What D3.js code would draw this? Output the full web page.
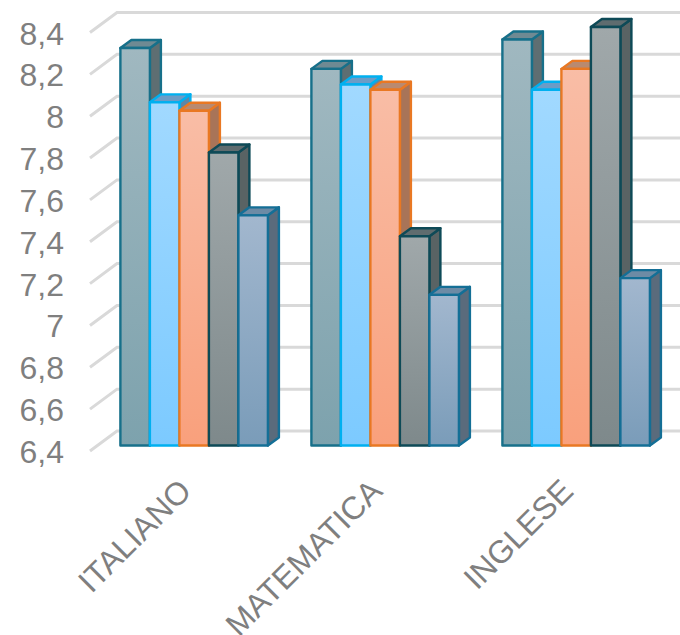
<!DOCTYPE html>
<html><head><meta charset="utf-8">
<script src="https://cdn.jsdelivr.net/npm/d3@7/dist/d3.min.js"></script>
<style>html,body{margin:0;padding:0;background:#fff}svg{display:block}text{font-family:"Liberation Sans",Arial,sans-serif;fill:#7f7f7f}</style>
</head><body><div id="c"></div>
<script>
const categories = ["ITALIANO","MATEMATICA","INGLESE"];
const seriesNames = ["A","B","C","D","E"];
const values = [
  [8.3, 8.04, 8.0, 7.8, 7.5],
  [8.2, 8.125, 8.1, 7.4, 7.12],
  [8.34, 8.1, 8.2, 8.4, 7.2]
];
const yTicks = [6.4,6.6,6.8,7,7.2,7.4,7.6,7.8,8,8.2,8.4];
const frontTop = ["#a0b8c0","#a1d9ff","#f9bda6","#a0a8aa","#a2b7ce"];
const frontBottom = ["#7da2ad","#7ccaff","#f9a07c","#7e898b","#7a9cb9"];
const strokes = ["#17708a","#00b0f0","#e97823","#0e4a57","#146f96"];
const tops = ["#6f8a93","#6c9cc6","#b98a70","#5f6c6f","#6d8ba5"];
const sides = ["#5e6e72","#5c87a8","#a87458","#596364","#5a6b7c"];

const W=680,H=635;
const svg=d3.select("#c").append("svg").attr("width",W).attr("height",H);
const y=d3.scaleLinear().domain([6.4,8.4]).range([451,32.5]);
const x=d3.scaleBand().domain(categories).range([96,674.3]).paddingInner(0.2277).paddingOuter(0.1277);
const sx=d3.scaleBand().domain(seriesNames).range([0,x.bandwidth()]);
const wallDx=27,wallDy=-20,barLift=-5.5,depthX=11,depthY=-8;

const defs=svg.append("defs");
seriesNames.forEach((s,i)=>{
  const g=defs.append("linearGradient").attr("id","g"+i).attr("x1",0).attr("y1",0).attr("x2",0).attr("y2",1);
  g.append("stop").attr("offset",0).attr("stop-color",frontTop[i]);
  g.append("stop").attr("offset",1).attr("stop-color",frontBottom[i]);
});

// gridlines on walls
svg.append("g").selectAll("path").data(yTicks).join("path")
  .attr("fill","none").attr("stroke","#d9d9d9").attr("stroke-width",3)
  .attr("d",d=>`M90,${y(d)}L${90+wallDx},${y(d)+wallDy}L${W},${y(d)+wallDy}`);

// value axis
const axis=d3.axisLeft(y).tickValues(yTicks).tickSize(0).tickPadding(0)
  .tickFormat(d=>String(d).replace(".",","));
const ax=svg.append("g").attr("transform","translate(64,0)").call(axis);
ax.select(".domain").remove();
ax.selectAll("text").attr("font-size",32).attr("dy","0.36em").style("fill","#7f7f7f").style("font-family",'"Liberation Sans",Arial,sans-serif');

// bars
categories.forEach((c,ci)=>{
  const g=svg.append("g");
  seriesNames.forEach((s,si)=>{
    const v=values[ci][si];
    const x0=x(c)+sx(s),x1=x0+sx.bandwidth();
    const yt=y(v)+barLift,yb=y(6.4)+barLift;
    const b=g.append("g").attr("stroke",strokes[si]).attr("stroke-width",2.4).attr("stroke-linejoin","round");
    b.append("path").attr("fill",sides[si])
      .attr("d",`M${x1},${yt}L${x1+depthX},${yt+depthY}L${x1+depthX},${yb+depthY}L${x1},${yb}Z`);
    b.append("path").attr("fill",tops[si])
      .attr("d",`M${x0},${yt}L${x0+depthX},${yt+depthY}L${x1+depthX},${yt+depthY}L${x1},${yt}Z`);
    b.append("rect").attr("x",x0).attr("y",yt).attr("width",x1-x0).attr("height",yb-yt).attr("fill",`url(#g${si})`);
  });
});

// category labels
svg.append("g").selectAll("text").data(categories).join("text")
  .attr("text-anchor","end").attr("font-size",32)
  .attr("transform",d=>`translate(${x(d)+x.bandwidth()*0.5-17},${477}) rotate(-45)`)
  .attr("dy","0.7em")
  .text(d=>d);
</script></body></html>
